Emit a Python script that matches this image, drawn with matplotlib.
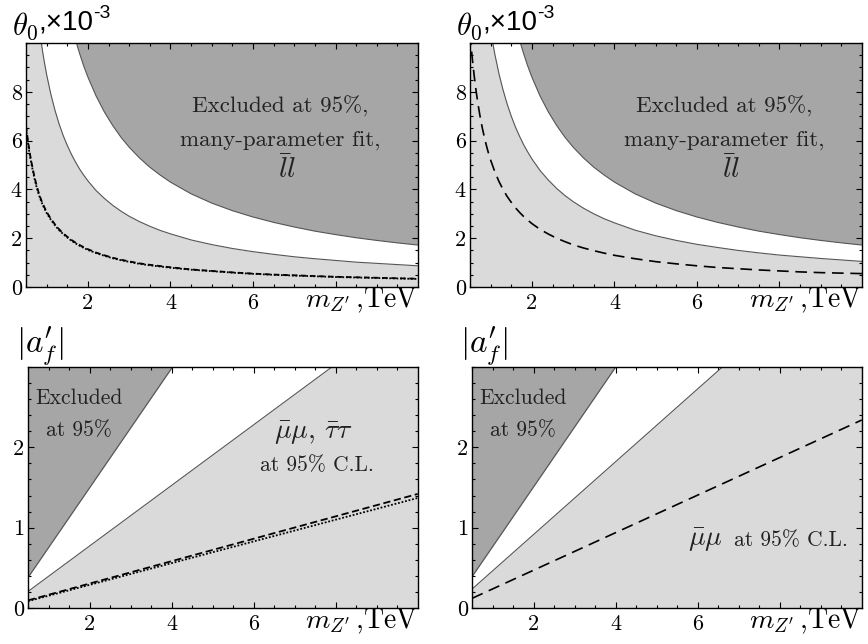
import matplotlib

matplotlib.use("Agg")
import matplotlib.pyplot as plt

plt.rcParams["font.family"] = ["cmr10", "DejaVu Serif"]
plt.rcParams["mathtext.fontset"] = "cm"
plt.rcParams["axes.formatter.use_mathtext"] = True

DARK, LIGHT, EDGE = "#a6a6a6", "#dadada", "#555555"

# ---- top row: theta_0 (x 1e-3) vs m_Z' (TeV)
m_top = [0.5, 0.55, 0.6, 0.65, 0.7, 0.75, 0.8, 0.85, 0.9, 0.95, 1.0, 1.1,
         1.2, 1.3, 1.4, 1.5, 1.6, 1.7, 1.8, 1.9, 2.0, 2.2, 2.4, 2.6, 2.8,
         3.0, 3.25, 3.5, 3.75, 4.0, 4.5, 5.0, 5.5, 6.0, 6.5, 7.0, 7.5, 8.0,
         8.5, 9.0, 9.5, 10.0]
excl_top = [34.4, 31.27, 28.67, 26.46, 24.57, 22.93, 21.5, 20.24, 19.11,
            18.11, 17.2, 15.64, 14.33, 13.23, 12.29, 11.47, 10.75, 10.12,
            9.56, 9.05, 8.6, 7.82, 7.17, 6.62, 6.14, 5.73, 5.29, 4.91, 4.59,
            4.3, 3.82, 3.44, 3.13, 2.87, 2.65, 2.46, 2.29, 2.15, 2.02, 1.91,
            1.81, 1.72]
allowed_tl = [17.4, 15.82, 14.5, 13.38, 12.43, 11.6, 10.88, 10.24, 9.67,
              9.16, 8.7, 7.91, 7.25, 6.69, 6.21, 5.8, 5.44, 5.12, 4.83, 4.58,
              4.35, 3.95, 3.63, 3.35, 3.11, 2.9, 2.68, 2.49, 2.32, 2.18, 1.93,
              1.74, 1.58, 1.45, 1.34, 1.24, 1.16, 1.09, 1.02, 0.97, 0.92,
              0.87]
allowed_tr = [21.0, 19.09, 17.5, 16.15, 15.0, 14.0, 13.13, 12.35, 11.67,
              11.05, 10.5, 9.55, 8.75, 8.08, 7.5, 7.0, 6.56, 6.18, 5.83, 5.53,
              5.25, 4.77, 4.38, 4.04, 3.75, 3.5, 3.23, 3.0, 2.8, 2.63, 2.33,
              2.1, 1.91, 1.75, 1.62, 1.5, 1.4, 1.31, 1.24, 1.17, 1.11, 1.05]
dash_tl = [6.6, 5.95, 5.4, 4.95, 4.55, 4.2, 3.9, 3.65, 3.43, 3.25, 3.08,
           2.8, 2.57, 2.37, 2.2, 2.06, 1.93, 1.82, 1.72, 1.63, 1.55, 1.41,
           1.3, 1.2, 1.12, 1.05, 0.97, 0.91, 0.86, 0.81, 0.72, 0.66, 0.6,
           0.55, 0.51, 0.48, 0.45, 0.42, 0.4, 0.38, 0.36, 0.34]
dot_tl = [6.5, 5.85, 5.32, 4.88, 4.48, 4.13, 3.84, 3.59, 3.38, 3.2, 3.03,
          2.76, 2.53, 2.33, 2.17, 2.03, 1.9, 1.79, 1.69, 1.6, 1.52, 1.39,
          1.28, 1.18, 1.1, 1.03, 0.95, 0.89, 0.84, 0.79, 0.71, 0.65, 0.59,
          0.54, 0.5, 0.47, 0.44, 0.41, 0.39, 0.37, 0.35, 0.33]
dash_tr = [10.4, 9.45, 8.67, 8.0, 7.43, 6.93, 6.5, 6.12, 5.78, 5.47, 5.2,
           4.73, 4.33, 4.0, 3.71, 3.47, 3.25, 3.06, 2.89, 2.74, 2.6, 2.36,
           2.17, 2.0, 1.86, 1.73, 1.6, 1.49, 1.39, 1.3, 1.16, 1.04, 0.95,
           0.87, 0.8, 0.75, 0.7, 0.66, 0.62, 0.59, 0.57, 0.55]

# ---- bottom row: |a'_f| vs m_Z' (TeV), straight lines
m_bot = [0.5, 10.0]
excl_bl = [0.38, 7.45]
allowed_bl = [0.206, 3.79]
dash_bl = [0.095, 1.42]
dot_bl = [0.085, 1.37]
excl_br = [0.39, 7.47]
allowed_br = [0.235, 4.54]
dash_br = [0.12, 2.34]

XMIN, XMAX = 0.5, 10.0
YMAX_TOP, YMAX_BOT = 10.0, 3.0
INK = "#222222"


def style_axes(ax, ymax, ymajor, yminor):
    ax.set_xlim(XMIN, XMAX)
    ax.set_ylim(0, ymax)
    ax.set_xticks([2, 4, 6, 8])
    ax.set_xticklabels(["2", "4", "6", ""])
    ax.set_xticks([x / 2 for x in range(1, 20)], minor=True)
    ax.set_yticks(ymajor)
    ax.set_yticklabels([("%g" % v) for v in ymajor])
    ax.set_yticks(yminor, minor=True)
    ax.tick_params(which="both", direction="in", top=True, right=True,
                   labelsize=16, width=0.8)
    ax.tick_params(which="major", length=4)
    ax.tick_params(which="minor", length=2)
    ax.tick_params(axis="x", pad=5)
    ax.tick_params(axis="y", pad=3)
    for s in ax.spines.values():
        s.set_linewidth(1.0)
    ax.text(1.0, -0.085, r"$m_{Z'}\,$,TeV", transform=ax.transAxes,
            ha="right", va="baseline", fontsize=20)


def bands(ax, x, low, high, ymax):
    ax.fill_between(x, 0, low, color=LIGHT, lw=0)
    ax.fill_between(x, high, ymax, color=DARK, lw=0)
    ax.plot(x, low, color=EDGE, lw=0.8)
    ax.plot(x, high, color=EDGE, lw=0.8)


def theta_label(ax):
    t = ax.text(-0.036, 1.005, r"$\theta_0$", transform=ax.transAxes,
                ha="left", va="bottom", fontsize=22)
    t2 = ax.annotate(",×10", xy=(1.0, 0.2), xycoords=t, ha="left",
                     va="bottom", fontsize=20, family="Liberation Sans")
    ax.annotate("-3", xy=(1.0, 0.5), xycoords=t2, ha="left",
                va="bottom", fontsize=14, family="Liberation Sans")


def a_label(ax, dx):
    ax.text(dx, 1.0, r"$|a_f^{\prime}|$", transform=ax.transAxes,
            ha="left", va="bottom", fontsize=24)


fig = plt.figure(figsize=(8.68, 6.44), dpi=100)
ax_tl = fig.add_axes([0.030, 0.5543, 0.4516, 0.3789])
ax_tr = fig.add_axes([0.5415, 0.5543, 0.4516, 0.3789])
ax_bl = fig.add_axes([0.0323, 0.0559, 0.449, 0.3742])
ax_br = fig.add_axes([0.5438, 0.0559, 0.449, 0.3742])

ytop = [0, 2, 4, 6, 8]
ytop_minor = [v / 2 for v in range(0, 21)]
ybot = [0, 1, 2]
ybot_minor = [v / 5 for v in range(0, 16)]

# top-left
bands(ax_tl, m_top, allowed_tl, excl_top, YMAX_TOP)
ax_tl.plot(m_top, dash_tl, color="black", lw=1.3, ls=(0, (3, 2)))
ax_tl.plot(m_top, dot_tl, color="black", lw=1.3, ls=(0, (1, 1)))
style_axes(ax_tl, YMAX_TOP, ytop, ytop_minor)
theta_label(ax_tl)

# top-right
bands(ax_tr, m_top, allowed_tr, excl_top, YMAX_TOP)
ax_tr.plot(m_top, dash_tr, color="black", lw=1.2, ls=(0, (7, 4)))
style_axes(ax_tr, YMAX_TOP, ytop, ytop_minor)
theta_label(ax_tr)

for ax in (ax_tl, ax_tr):
    ax.text(0.648, 0.742, "Excluded at 95%,", transform=ax.transAxes,
            ha="center", va="center", fontsize=16.5, color=INK)
    ax.text(0.648, 0.602, "many-parameter fit,", transform=ax.transAxes,
            ha="center", va="center", fontsize=16.5, color=INK)
    ax.text(0.665, 0.48, r"$\bar{l}l$", transform=ax.transAxes,
            ha="center", va="center", fontsize=21, color=INK)

# bottom-left
bands(ax_bl, m_bot, allowed_bl, excl_bl, YMAX_BOT)
ax_bl.plot(m_bot, dash_bl, color="black", lw=1.3, ls=(0, (4, 2)))
ax_bl.plot(m_bot, dot_bl, color="black", lw=1.3, ls=(0, (1, 1)))
style_axes(ax_bl, YMAX_BOT, ybot, ybot_minor)
a_label(ax_bl, -0.03)
ax_bl.text(0.731, 0.723, r"$\bar{\mu}\mu$, $\bar{\tau}\tau$",
           transform=ax_bl.transAxes, ha="center", va="center", fontsize=20,
           color=INK)
ax_bl.text(0.741, 0.592, "at 95% C.L.", transform=ax_bl.transAxes,
           ha="center", va="center", fontsize=15.5, color=INK)

# bottom-right
bands(ax_br, m_bot, allowed_br, excl_br, YMAX_BOT)
ax_br.plot(m_bot, dash_br, color="black", lw=1.2, ls=(0, (7, 4)))
style_axes(ax_br, YMAX_BOT, ybot, ybot_minor)
a_label(ax_br, -0.03)
ax_br.text(0.964, 0.256, "at 95% C.L.", transform=ax_br.transAxes,
           ha="right", va="baseline", fontsize=15.5, color=INK)
ax_br.text(0.555, 0.256, r"$\bar{\mu}\mu$", transform=ax_br.transAxes,
           ha="left", va="baseline", fontsize=20, color=INK)

for ax in (ax_bl, ax_br):
    ax.text(0.13, 0.871, "Excluded", transform=ax.transAxes,
            ha="center", va="center", fontsize=15.5, color=INK)
    ax.text(0.13, 0.737, "at 95%", transform=ax.transAxes,
            ha="center", va="center", fontsize=15.5, color=INK)

fig.savefig("out.png", dpi=100)
